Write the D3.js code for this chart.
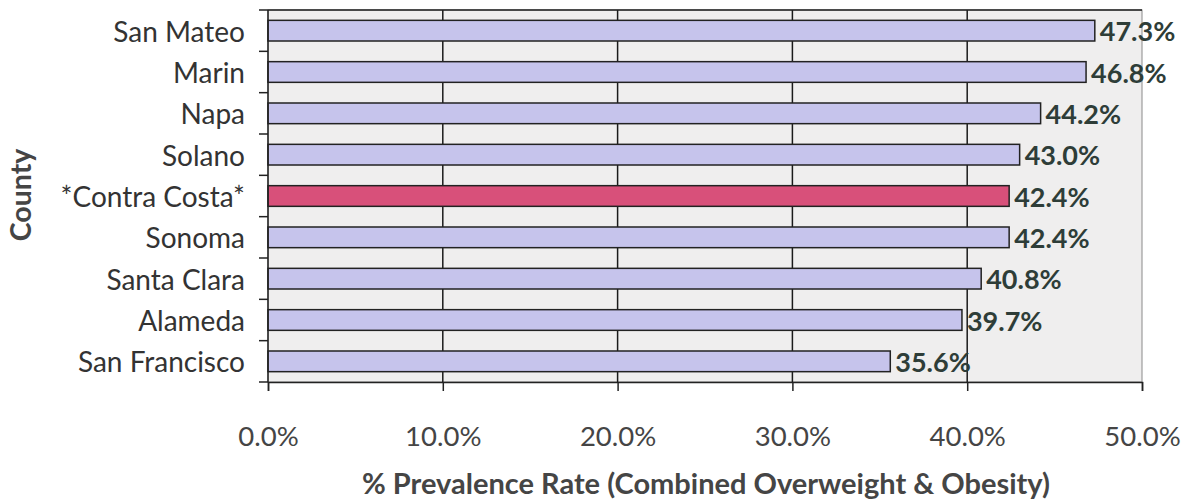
<!DOCTYPE html>
<html><head><meta charset="utf-8">
<script src="https://cdn.jsdelivr.net/npm/d3@7"></script>
<style>body{margin:0;background:#fff}svg{display:block}</style>
</head><body>
<svg id="c" width="1189" height="500"></svg>
<script>
const counties = ["San Mateo","Marin","Napa","Solano","*Contra Costa*","Sonoma","Santa Clara","Alameda","San Francisco"];
const rates = [47.3,46.8,44.2,43.0,42.4,42.4,40.8,39.7,35.6];
const highlighted = ["*Contra Costa*"];
const xTicks = [0,10,20,30,40,50];
const xTitle = "% Prevalence Rate (Combined Overweight & Obesity)";
const yTitle = "County";

const svg = d3.select("#c");
const m = {l:268, r:1142, t:10, b:382};
const x = d3.scaleLinear().domain([0,50]).range([m.l,m.r]);
const y = d3.scaleBand().domain(counties).range([m.t,m.b]).paddingInner(0.5).paddingOuter(0.25);
const FONT = "Lato, 'Open Sans', sans-serif";

svg.append("rect").attr("x",m.l).attr("y",m.t).attr("width",m.r-m.l).attr("height",m.b-m.t)
  .attr("fill","#efeeee").attr("stroke","#8a8a8a").attr("stroke-width",1);

// vertical gridlines
svg.append("g").selectAll("line").data(xTicks.slice(1,-1)).join("line")
  .attr("x1",d=>x(d)).attr("x2",d=>x(d)).attr("y1",m.t).attr("y2",m.b)
  .attr("stroke","#1a1a1a").attr("stroke-width",1.5);
svg.append("line").attr("x1",m.l).attr("x2",m.r).attr("y1",m.t).attr("y2",m.t).attr("stroke","#222").attr("stroke-width",1.5);

// bars
svg.append("g").selectAll("rect").data(counties).join("rect")
  .attr("x",x(0)).attr("y",d=>y(d)).attr("height",y.bandwidth())
  .attr("width",(d,i)=>x(rates[i])-x(0))
  .attr("fill",d=>highlighted.includes(d)?"#d8507a":"#c6c4ec")
  .attr("stroke","#222").attr("stroke-width",1.5);

// value labels
svg.append("g").selectAll("text").data(counties).join("text")
  .attr("x",(d,i)=>x(rates[i])+5).attr("y",d=>y(d)+y.bandwidth()/2+1)
  .attr("dy","0.36em").attr("font-family",FONT).attr("font-weight","bold").attr("font-size",27)
  .attr("fill","#2e3d38").text((d,i)=>rates[i].toFixed(1)+"%");

// x axis
const xa = svg.append("g").attr("transform",`translate(0,${m.b})`)
  .call(d3.axisBottom(x).tickValues(xTicks).tickFormat(d=>d.toFixed(1)+"%").tickSize(9).tickPadding(35));
xa.select(".domain").attr("stroke","#222").attr("stroke-width",1.5);
xa.selectAll(".tick line").attr("stroke","#222").attr("stroke-width",1.5);
xa.selectAll("text").attr("font-family",FONT).attr("font-size",27.5).attr("fill","#454545");

// y axis
const yBounds = d3.range(counties.length+1).map(i=>m.t+i*(m.b-m.t)/counties.length);
svg.append("line").attr("x1",m.l).attr("x2",m.l).attr("y1",m.t).attr("y2",m.b).attr("stroke","#222").attr("stroke-width",1.5);
svg.append("g").selectAll("line").data(yBounds).join("line")
  .attr("x1",m.l-9).attr("x2",m.l).attr("y1",d=>d).attr("y2",d=>d).attr("stroke","#222").attr("stroke-width",1.5);
svg.append("g").selectAll("text").data(counties).join("text")
  .attr("x",m.l-23).attr("y",d=>y(d)+y.bandwidth()/2+1).attr("dy","0.36em")
  .attr("text-anchor","end").attr("font-family",FONT).attr("font-size",28).attr("fill","#333")
  .text(d=>d);

// titles
svg.append("text").attr("x",(357+1055)/2).attr("y",494).attr("text-anchor","middle")
  .attr("font-family",FONT).attr("font-weight","bold").attr("font-size",29).attr("fill","#454545").text(xTitle);
svg.append("text").attr("transform",`translate(31,${(m.t+m.b)/2-1}) rotate(-90)`).attr("text-anchor","middle")
  .attr("font-family",FONT).attr("font-weight","bold").attr("font-size",28.5).attr("fill","#454545").text(yTitle);
</script>
</body></html>
